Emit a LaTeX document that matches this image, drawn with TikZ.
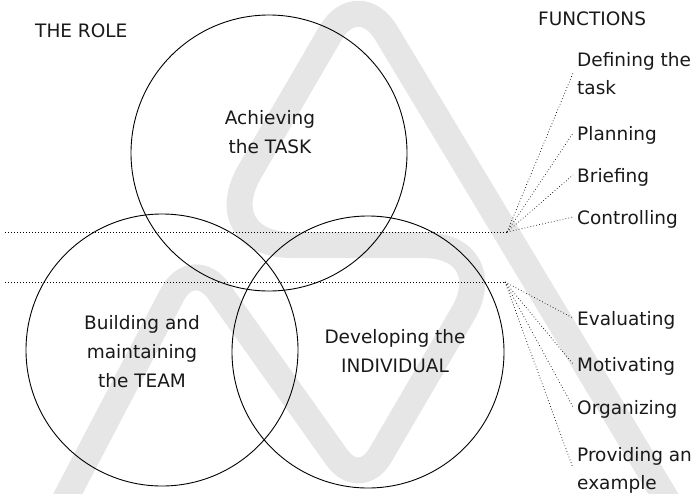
\documentclass[tikz,border=0pt]{standalone}
\usepackage{fontspec}
\setmainfont{DejaVu Sans}
\definecolor{bandgray}{RGB}{230,230,230}
\begin{document}
\begin{tikzpicture}[x=1pt,y=-1pt,
  circ/.style={draw=black, circle, inner sep=0pt, line width=0.9pt, minimum size=#1},
  lbl/.style={font=\fontsize{18.5}{29}\selectfont, text=black!90, align=center, inner sep=0pt},
  head/.style={font=\fontsize{18.5}{29}\selectfont, text=black!90, inner sep=0pt, anchor=base west},
  fn/.style={font=\fontsize{18.5}{28}\selectfont, text=black!90, align=left, anchor=west, inner xsep=4pt, inner ysep=0pt, text depth=0pt},
  dots/.style={line width=0.7pt, dash pattern=on 0.7pt off 2.3pt},
  band/.style={line width=26pt, draw=bandgray, line join=round, line cap=round}]
\useasboundingbox (0,0) rectangle (700,493);
% background logo
\begin{scope}
\clip (0,0) rectangle (700,493);
\draw[band, line cap=butt, rounded corners=45pt] (62,505) -- (193,255) -- (276.5,372.5);
\draw[band, rounded corners=40pt] (276.5,372.5) -- (360,490) -- (431.5,367.5);
\draw[band, rounded corners=80pt] (431.5,367.5) -- (503,245) -- (355,245);
\draw[band, rounded corners=85pt] (355,245) -- (207,245) -- (282.5,115.5);
\draw[band, line cap=butt, rounded corners=55pt] (282.5,115.5) -- (358,-14) -- (682,525);
\end{scope}
% circles
\node[circ=276pt] (task) at (269,153) {};
\node[circ=272pt] (team) at (162,350) {};
\node[circ=272pt] (indiv) at (368,352) {};
% circle labels
\node[lbl] (taskl) at (270,132) {Achieving\\the TASK};
\node[lbl] (teaml) at (142,352) {Building and\\maintaining\\the TEAM};
\node[lbl] (indivl) at (395,351) {Developing the\\INDIVIDUAL};
% headings
\node[head] (role) at (35,37) {THE ROLE};
\node[head] (funcs) at (538,25) {FUNCTIONS};
% function labels
\node[fn] (f1) at (573,73) {Defining the\\task};
\node[fn] (f2) at (573,133) {Planning};
\node[fn] (f3) at (573,175) {Briefing};
\node[fn] (f4) at (573,217) {Controlling};
\node[fn] (f5) at (573,318) {Evaluating};
\node[fn] (f6) at (573,364) {Motivating};
\node[fn] (f7) at (573,407) {Organizing};
\node[fn] (f8) at (573,468) {Providing an\\example};
% dotted guide lines
\coordinate (lineA) at (5,232);
\coordinate (hubA) at (507,232);
\coordinate (lineB) at (5,282);
\coordinate (hubB) at (505,282);
\draw[dots] (lineA) -- (hubA);
\draw[dots] (lineB) -- (hubB);
\foreach \f in {f1,f2,f3,f4} \draw[dots] (hubA) -- (\f.west);
\foreach \f in {f5,f6,f7,f8} \draw[dots] (hubB) -- (\f.west);
\end{tikzpicture}
\end{document}
